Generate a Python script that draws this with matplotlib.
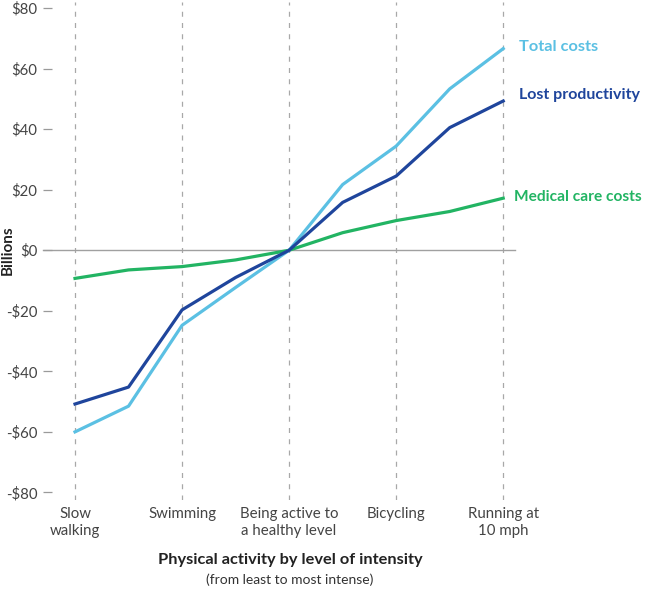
import matplotlib
matplotlib.use("Agg")
import matplotlib.pyplot as plt

plt.rcParams['font.family'] = ['Lato', 'DejaVu Sans']

# data (billions of dollars)
steps = [0, 1, 2, 3, 4, 5, 6, 7, 8]
total_costs = [-60, -51.5, -24.8, -12.3, 0, 21.7, 34.4, 53.3, 66.6]
lost_productivity = [-50.8, -45.2, -19.7, -9.0, 0, 15.8, 24.5, 40.5, 49.3]
medical_care = [-9.3, -6.5, -5.4, -3.2, 0, 5.8, 9.8, 12.8, 17.2]

tick_pos = [0, 2, 4, 6, 8]
tick_labels = ['Slow\nwalking', 'Swimming', 'Being active to\na healthy level',
               'Bicycling', 'Running at\n10 mph']
y_ticks = [-80, -60, -40, -20, 0, 20, 40, 60, 80]

c_total = '#5BC0E3'
c_lost = '#1F459C'
c_med = '#22B463'

fig = plt.figure(figsize=(6.47, 5.89), dpi=100)
ax = fig.add_axes([52 / 647, 89 / 589, 463 / 647, 498 / 589])

for x in tick_pos:
    ax.axvline(x, color='#a8a8a8', lw=0.9, ls=(0, (4, 5)), zorder=1)
ax.plot([-0.02, 1.0], [0, 0], transform=ax.get_yaxis_transform(),
        color='#a0a0a0', lw=1.0, clip_on=False, zorder=1)

ax.plot(steps, medical_care, color=c_med, lw=2.3, zorder=3)
ax.plot(steps, total_costs, color=c_total, lw=2.3, zorder=4)
ax.plot(steps, lost_productivity, color=c_lost, lw=2.3, zorder=5)

ax.text(8.3, total_costs[-1] + 0.5, 'Total costs', color=c_total,
        fontsize=11.8, fontweight='bold', va='center', ha='left')
ax.text(8.3, lost_productivity[-1] + 2, 'Lost productivity', color=c_lost,
        fontsize=11.5, fontweight='bold', va='center', ha='left')
ax.text(8.2, medical_care[-1] + 0.5, 'Medical care costs', color=c_med,
        fontsize=11.2, fontweight='bold', va='center', ha='left')

ax.set_xlim(-0.43, 8.22)
ax.set_ylim(-82.5, 82)
ax.set_yticks(y_ticks)
ax.set_yticklabels([('-$%d' % -v) if v < 0 else ('$%d' % v) for v in y_ticks])
ax.set_xticks(tick_pos)
ax.set_xticklabels(tick_labels, linespacing=1.25)
ax.tick_params(axis='y', length=6.5, width=0.9, color='#9a9a9a',
               labelsize=10.8, labelcolor='#444444', pad=4)
ax.tick_params(axis='x', length=0, labelsize=10.8, labelcolor='#444444', pad=5)
for s in ax.spines.values():
    s.set_visible(False)

fig.text(8 / 647, 1 - 250 / 589, 'Billions', rotation=90, fontsize=11,
         fontweight='bold', color='#222222', ha='center', va='center')
fig.text(290 / 647, 1 - 560 / 589, 'Physical activity by level of intensity',
         fontsize=11.8, fontweight='bold', color='#222222', ha='center', va='center')
fig.text(290 / 647, 1 - 580 / 589, '(from least to most intense)',
         fontsize=10, color='#333333', ha='center', va='center')

fig.savefig('out.png', dpi=100)
